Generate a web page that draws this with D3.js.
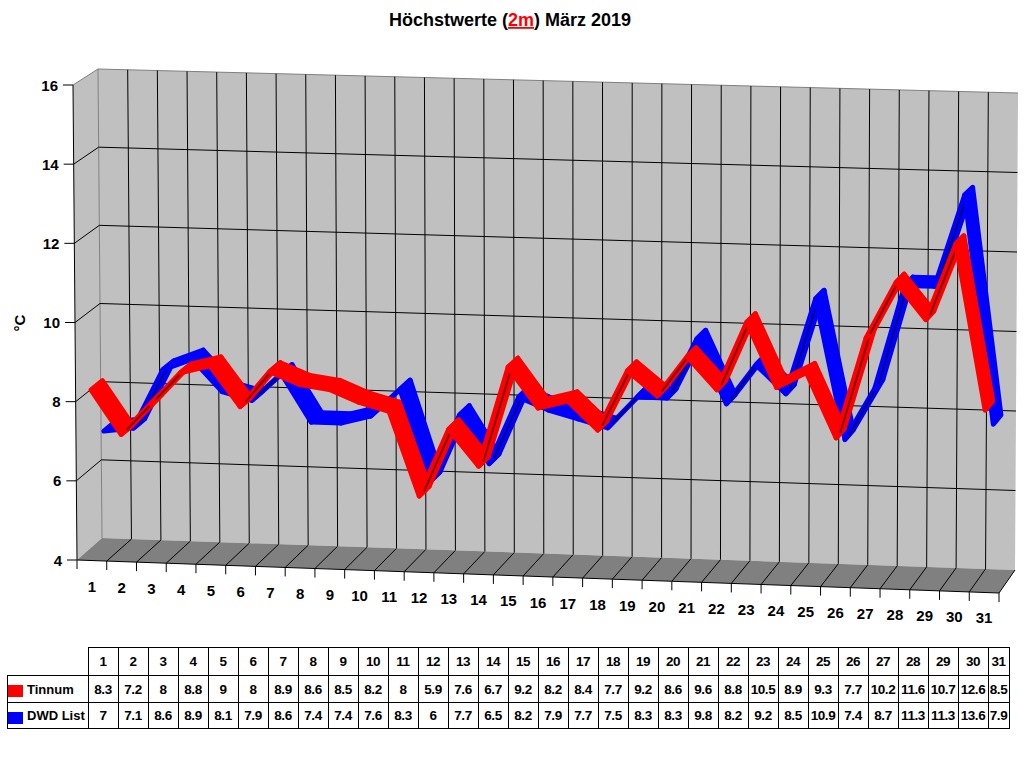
<!DOCTYPE html>
<html>
<head>
<meta charset="utf-8">
<script src="https://cdn.jsdelivr.net/npm/d3@7"></script>
<style>
	body { margin: 0; background: #fff; }
	svg { display: block; font-family: 'Liberation Sans', Arial, sans-serif; font-weight: bold; }
</style>
</head>
<body>
<svg width="1024" height="768"></svg>
<script>
// Werte aus der Tabelle
const days = [1, 2, 3, 4, 5, 6, 7, 8, 9, 10, 11, 12, 13, 14, 15, 16, 17, 18, 19, 20, 21, 22, 23, 24, 25, 26, 27, 28, 29, 30, 31]
const tinnum = [8.3, 7.2, 8, 8.8, 9, 8, 8.9, 8.6, 8.5, 8.2, 8, 5.9, 7.6, 6.7, 9.2, 8.2, 8.4, 7.7, 9.2, 8.6, 9.6, 8.8, 10.5, 8.9, 9.3, 7.7, 10.2, 11.6, 10.7, 12.6, 8.5]
const dwdList = [7, 7.1, 8.6, 8.9, 8.1, 7.9, 8.6, 7.4, 7.4, 7.6, 8.3, 6, 7.7, 6.5, 8.2, 7.9, 7.7, 7.5, 8.3, 8.3, 9.8, 8.2, 9.2, 8.5, 10.9, 7.4, 8.7, 11.3, 11.3, 13.6, 7.9]
const yTicks = [4, 6, 8, 10, 12, 14, 16]
const seriesNames = ['Tinnum', 'DWD List']
const seriesColors = ['#ff0000', '#0000ff']
const seriesDark = ['#800000', '#000080']

const svg = d3.select('svg')

// 3D-Rahmen: vordere und hintere Ebene
const front = { lb: [77, 560], lt: [73, 85], rb: [999, 593], rt: [1001, 108] }
const back = { lb: [102, 538], lt: [98, 69], rb: [1015, 570], rt: [1018, 93] }

let xScale = d3.scaleLinear().domain([0, days.length]).range([0, 1])
let yScale = d3.scaleLinear().domain([4, 16]).range([0, 1])

function lerp(a, b, t) {
	return [a[0] + (b[0] - a[0]) * t, a[1] + (b[1] - a[1]) * t]
}
function plane(p, u, t) {
	return lerp(lerp(p.lb, p.rb, u), lerp(p.lt, p.rt, u), t)
}
function proj(u, t, z) {
	return lerp(plane(front, u, t), plane(back, u, t), z)
}
const line = d3.line()

// Rückwand
let walls = svg.append('g').attr('id', 'walls')
walls.append('path')
	.attr('d', line([back.lt, back.rt, back.rb, back.lb]) + 'Z')
	.attr('fill', '#c0c0c0')
// Seitenwand
walls.append('path')
	.attr('d', line([front.lt, back.lt, back.lb, front.lb]) + 'Z')
	.attr('fill', '#c0c0c0')

let grid = svg.append('g').attr('id', 'grid')
	.attr('stroke', '#000').attr('stroke-width', 1).attr('fill', 'none')

// horizontale Gitterlinien (Rückwand + Seitenwand)
yScale.ticks(6).filter(v => v > 4 && v < 16).forEach(v => {
	let t = yScale(v)
	grid.append('path').attr('d', line([proj(0, t, 0), proj(0, t, 1), proj(1, t, 1)]))
})
// senkrechte Gitterlinien
d3.range(1, days.length).forEach(k => {
	let u = xScale(k)
	grid.append('path').attr('d', line([proj(u, 1, 1), proj(u, 0, 1)]))
})

// Kanten
walls.append('path')
	.attr('d', line([front.lt, back.lt, back.rt]))
	.attr('stroke', '#808080').attr('fill', 'none')
walls.append('path')
	.attr('d', line([back.lt, back.lb]))
	.attr('stroke', '#808080').attr('fill', 'none')

// Boden
let floor = svg.append('g').attr('id', 'floor')
floor.append('path')
	.attr('d', line([front.lb, front.rb, back.rb, back.lb]) + 'Z')
	.attr('fill', '#808080')
d3.range(1, days.length + 1).forEach(k => {
	let u = xScale(k)
	floor.append('path')
		.attr('d', line([proj(u, 0, 0), proj(u, 0, 1)]))
		.attr('stroke', '#000').attr('fill', 'none')
})

// Achsen
let axes = svg.append('g').attr('id', 'axes').attr('stroke', '#000').attr('fill', 'none')
axes.append('path').attr('d', line([front.lb, front.rb]))
axes.append('path').attr('d', line([front.lb, front.lt]))

let labels = svg.append('g').attr('id', 'labels').attr('font-size', 15).attr('fill', '#000')
yTicks.forEach(v => {
	let p = proj(0, yScale(v), 0)
	axes.append('path').attr('d', line([[p[0] - 10, p[1]], p]))
	labels.append('text')
		.attr('x', p[0] - 15).attr('y', p[1] + 5.5)
		.attr('text-anchor', 'end')
		.text(v)
})
d3.range(0, days.length + 1).forEach(k => {
	let p = proj(xScale(k), 0, 0)
	axes.append('path').attr('d', line([p, [p[0], p[1] + 9]]))
})
days.forEach((d, i) => {
	let p = proj(xScale(i + 0.5), 0, 0)
	labels.append('text')
		.attr('x', p[0]).attr('y', p[1] + 31)
		.attr('text-anchor', 'middle')
		.text(d)
})
labels.append('text')
	.attr('transform', 'translate(25, 323) rotate(-90)')
	.attr('text-anchor', 'middle')
	.text('°C')

// Bänder: hintere Reihe zuerst
const series = [tinnum, dwdList]
const depth = [[0.02, 0.48], [0.52, 0.98]]
let ribbons = svg.append('g').attr('id', 'ribbons')
;[1, 0].forEach(s => {
	let values = series[s]
	let z0 = depth[s][0], z1 = depth[s][1]
	let g = ribbons.append('g')
	for (let i = 0; i < values.length - 1; i++) {
		let ua = xScale(i + 0.5), ub = xScale(i + 1.5)
		let ta = yScale(values[i]), tb = yScale(values[i + 1])
		let a0 = proj(ua, ta, z0), b0 = proj(ub, tb, z0)
		let a1 = proj(ua, ta, z1), b1 = proj(ub, tb, z1)
		g.append('path')
			.attr('d', line([a0, b0, b1, a1]) + 'Z')
			.attr('fill', seriesColors[s])
			.attr('stroke', seriesColors[s])
			.attr('stroke-width', 5)
			.attr('stroke-linejoin', 'round')
		let cross = (b0[0] - a0[0]) * (a1[1] - a0[1]) - (b0[1] - a0[1]) * (a1[0] - a0[0])
		if (cross > 0) {
			let zm = (z0 + z1) / 2
			g.append('path')
				.attr('d', line([proj(ua, ta, zm), proj(ub, tb, zm)]))
				.attr('stroke', seriesDark[s])
				.attr('stroke-width', 2)
				.attr('fill', 'none')
		}
	}
})

// Titel
let title = svg.append('text')
	.attr('x', 510).attr('y', 26)
	.attr('text-anchor', 'middle')
	.attr('font-size', 18)
title.append('tspan').text('Höchstwerte (')
title.append('tspan').attr('fill', '#ff0000').attr('text-decoration', 'underline').text('2m')
title.append('tspan').text(') März 2019')

// Datentabelle
let colX = d3.scaleLinear().domain([0, days.length]).range([88, 88 + days.length * 30])
const tableRight = 1009
const rowY = [647, 675, 702, 728]
let table = svg.append('g').attr('id', 'table').attr('font-size', 13.5)
	.attr('shape-rendering', 'crispEdges')

function cell(x0, x1, y0, y1, txt) {
	x1 = Math.min(x1, tableRight)
	table.append('rect')
		.attr('x', x0).attr('y', y0)
		.attr('width', x1 - x0).attr('height', y1 - y0)
		.attr('fill', '#fff').attr('stroke', '#000')
	if (txt !== undefined) {
		table.append('text')
			.attr('x', (x0 + x1) / 2).attr('y', (y0 + y1) / 2 + 5)
			.attr('text-anchor', 'middle')
			.attr('letter-spacing', -0.4)
			.text(txt)
	}
}
days.forEach((d, i) => {
	cell(colX(i), colX(i + 1), rowY[0], rowY[1], d)
	series.forEach((values, s) => {
		cell(colX(i), colX(i + 1), rowY[s + 1], rowY[s + 2], values[i])
	})
})
seriesNames.forEach((name, s) => {
	cell(7, 88, rowY[s + 1], rowY[s + 2])
	table.append('rect')
		.attr('x', 8).attr('y', rowY[s + 1] + 10)
		.attr('width', 15).attr('height', 12)
		.attr('fill', seriesColors[s])
	table.append('text')
		.attr('x', 27).attr('y', (rowY[s + 1] + rowY[s + 2]) / 2 + 5)
		.attr('font-size', 13)
		.text(name)
})
</script>
</body>
</html>
